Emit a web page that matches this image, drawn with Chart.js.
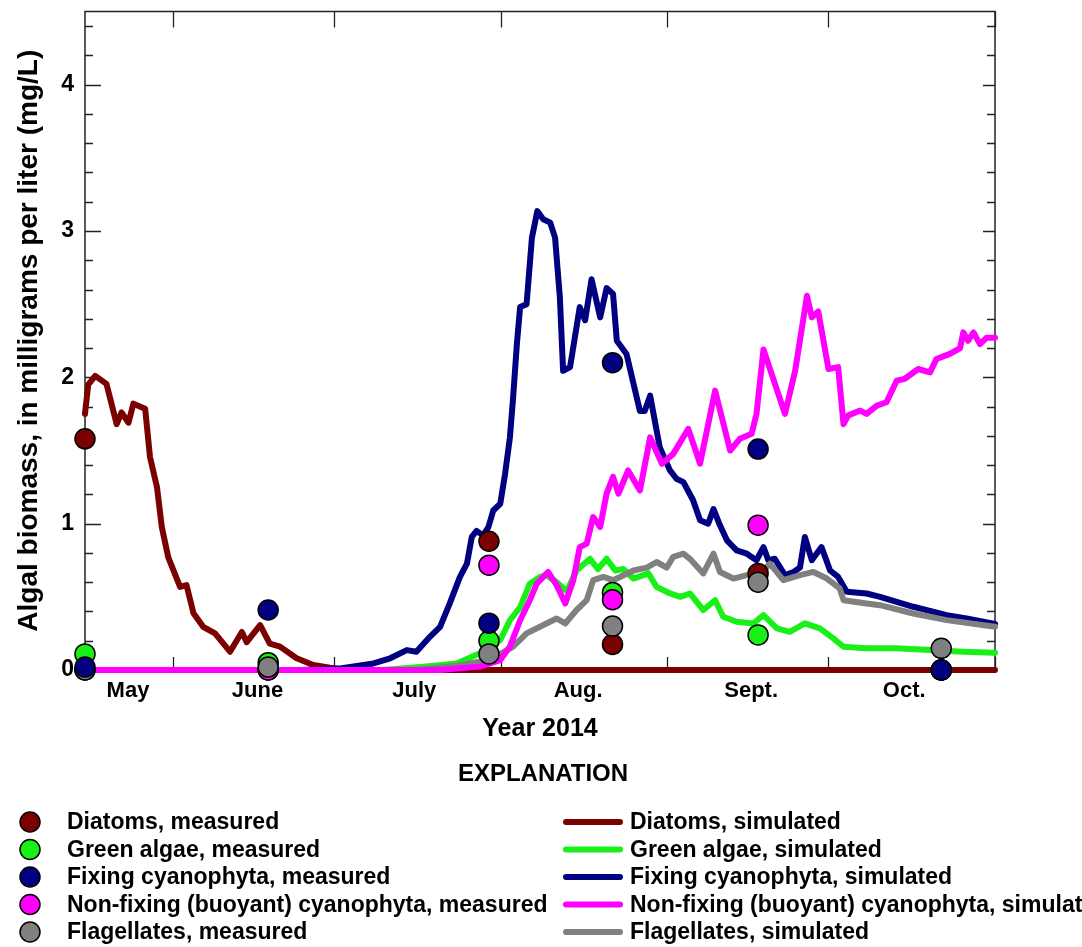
<!DOCTYPE html>
<html>
<head>
<meta charset="utf-8">
<title>Algal biomass, 2014</title>
<script src="https://cdn.jsdelivr.net/npm/chart.js@4.4.1/dist/chart.umd.min.js"></script>
<style>
  html, body { margin: 0; padding: 0; background: #fff; }
  #wrap { width: 1082px; height: 947px; }
</style>
</head>
<body>
<div id="wrap"><canvas id="chart" width="1082" height="947"></canvas></div>
<script>
// x values are days since 1 January 2014 (1 June = 151)
const xMin = 134.6;
const xMax = 304;
const monthNames = ['May', 'June', 'July', 'Aug.', 'Sept.', 'Oct.'];
const monthLabelDays = [142.6, 166.7, 195.9, 226.4, 258.6, 287.1];
const monthStartDays = [151, 181, 212, 243, 273, 304];
const yMajorTicks = [0, 1, 2, 3, 4];

const seriesNames = ['Diatoms', 'Green algae', 'Fixing cyanophyta', 'Non-fixing (buoyant) cyanophyta', 'Flagellates'];
const seriesColors = ['#7b0000', '#18f018', '#000080', '#ff00ff', '#808080'];

// sampling dates and measured biomass, mg/L
const sampleDays = [134.6, 168.7, 209.8, 232.8, 259.9, 294.0];
const diatomsMeasured = [1.58, 0, 0.88, 0.175, 0.66, 0];
const greenMeasured = [0.11, 0.05, 0.20, 0.53, 0.24, 0];
const fixingMeasured = [0.02, 0.41, 0.32, 2.10, 1.51, 0];
const nonfixMeasured = [0, 0, 0.716, 0.48, 0.99, 0];
const flagMeasured = [0, 0.02, 0.11, 0.30, 0.60, 0.148];

// simulated biomass
const diatomDays = [134.6, 135.2, 136.5, 138.6, 140.5, 141.4, 142.7, 143.6, 145.8, 146.7, 148.0, 148.9, 150.1, 152.3, 153.5, 154.8, 156.6, 158.8, 161.6, 163.8, 164.7, 167.2, 169.0, 170.9, 174.0, 177.1, 180.2, 184, 304];
const diatomSim = [1.75, 1.95, 2.01, 1.955, 1.68, 1.76, 1.69, 1.82, 1.785, 1.455, 1.25, 0.977, 0.77, 0.568, 0.58, 0.387, 0.295, 0.25, 0.125, 0.26, 0.19, 0.307, 0.18, 0.16, 0.08, 0.034, 0.015, 0, 0];

const greenDays = [134.6, 190, 197.6, 203.8, 208.1, 211.9, 213.7, 215.6, 217.4, 219.3, 220.5, 222.4, 224.3, 226.1, 228.6, 230.1, 231.7, 233.3, 234.8, 236.7, 239.5, 241.0, 243.5, 245.4, 247.2, 249.7, 251.9, 253.4, 255.9, 259.0, 260.9, 263.4, 265.8, 268.6, 271.4, 273.9, 275.8, 280.1, 285.7, 291.9, 298.1, 304];
const greenSim = [0, 0, 0.023, 0.045, 0.114, 0.205, 0.34, 0.43, 0.59, 0.636, 0.648, 0.60, 0.54, 0.68, 0.76, 0.69, 0.76, 0.68, 0.69, 0.625, 0.66, 0.568, 0.523, 0.50, 0.523, 0.41, 0.477, 0.364, 0.33, 0.318, 0.375, 0.284, 0.261, 0.318, 0.284, 0.216, 0.159, 0.148, 0.148, 0.136, 0.125, 0.118];

const fixingDays = [134.6, 175, 182.1, 188.3, 191.4, 194.5, 196.3, 198.8, 200.7, 202.5, 204.4, 205.7, 206.6, 207.5, 208.7, 209.7, 210.6, 211.9, 212.8, 213.7, 214.3, 215.0, 215.6, 216.8, 217.8, 218.8, 219.9, 221.2, 222.1, 223.0, 223.6, 224.9, 226.7, 227.7, 228.9, 230.5, 231.7, 232.9, 233.6, 235.4, 237.9, 238.8, 239.8, 241.6, 243.5, 244.7, 246.0, 247.8, 249.1, 250.6, 251.6, 252.8, 254.1, 255.9, 257.8, 259.6, 260.9, 261.8, 263.0, 264.9, 266.5, 267.7, 268.6, 269.9, 271.7, 273.3, 274.8, 276.4, 280.1, 282.6, 288.8, 295.0, 298.7, 304];
const fixingSim = [0, 0, 0.01, 0.045, 0.08, 0.136, 0.125, 0.227, 0.295, 0.455, 0.636, 0.727, 0.909, 0.95, 0.92, 0.977, 1.09, 1.136, 1.34, 1.59, 1.864, 2.23, 2.48, 2.50, 2.955, 3.136, 3.08, 3.057, 2.955, 2.545, 2.045, 2.07, 2.48, 2.39, 2.67, 2.41, 2.61, 2.57, 2.25, 2.16, 1.77, 1.77, 1.875, 1.52, 1.364, 1.307, 1.284, 1.16, 1.023, 1.0, 1.10, 0.989, 0.886, 0.818, 0.795, 0.75, 0.84, 0.75, 0.76, 0.648, 0.67, 0.70, 0.909, 0.75, 0.84, 0.68, 0.636, 0.534, 0.523, 0.50, 0.432, 0.375, 0.352, 0.315];

const nonfixDays = [134.6, 200.7, 208.1, 211.9, 213.7, 215.6, 217.4, 218.7, 220.8, 222.4, 224.0, 225.5, 226.7, 228.0, 229.2, 230.5, 231.7, 232.9, 233.9, 235.7, 237.9, 239.8, 242.0, 244.1, 246.9, 249.1, 251.9, 254.7, 256.5, 258.7, 259.6, 260.9, 264.9, 266.8, 269.0, 269.9, 271.1, 273.0, 274.8, 275.8, 276.7, 278.9, 280.1, 282.0, 283.8, 285.7, 287.2, 289.7, 291.9, 293.1, 295.6, 297.5, 298.1, 299.0, 300.0, 301.2, 302.4, 304];
const nonfixSim = [0, 0, 0.023, 0.068, 0.16, 0.34, 0.477, 0.59, 0.67, 0.58, 0.455, 0.614, 0.84, 0.864, 1.045, 0.977, 1.205, 1.32, 1.205, 1.364, 1.227, 1.59, 1.41, 1.477, 1.648, 1.41, 1.909, 1.5, 1.58, 1.614, 1.75, 2.19, 1.75, 2.045, 2.557, 2.41, 2.45, 2.057, 2.07, 1.68, 1.74, 1.773, 1.75, 1.807, 1.83, 1.977, 1.99, 2.057, 2.034, 2.125, 2.16, 2.2, 2.307, 2.25, 2.307, 2.227, 2.27, 2.27];

const flagDays = [134.6, 196, 198.8, 204, 210.0, 214.3, 216.8, 220.5, 222.4, 224.0, 226.1, 228.0, 229.2, 231.1, 232.9, 234.2, 236.7, 239.2, 241.0, 242.9, 244.1, 246.0, 247.2, 249.7, 251.6, 252.8, 255.3, 257.8, 260.9, 262.1, 264.6, 267.7, 270.2, 272.7, 275.1, 275.8, 280.1, 282.6, 288.8, 295.0, 304];
const flagSim = [0, 0, 0.01, 0.03, 0.07, 0.16, 0.25, 0.318, 0.352, 0.318, 0.41, 0.477, 0.614, 0.636, 0.614, 0.636, 0.68, 0.70, 0.738, 0.70, 0.773, 0.795, 0.76, 0.66, 0.795, 0.67, 0.625, 0.648, 0.68, 0.727, 0.614, 0.648, 0.67, 0.625, 0.557, 0.477, 0.455, 0.443, 0.386, 0.341, 0.295];

const FONT = "'Liberation Sans', Arial, Helvetica, sans-serif";
const toPoints = (xs, ys) => xs.map((x, i) => ({ x, y: ys[i] }));

function simulated(idx, xs, ys, order) {
  return {
    label: seriesNames[idx] + ', simulated',
    data: toPoints(xs, ys),
    showLine: true,
    borderColor: seriesColors[idx],
    backgroundColor: seriesColors[idx],
    borderWidth: 6,
    borderJoinStyle: 'round',
    borderCapStyle: 'round',
    pointRadius: 0,
    tension: 0,
    clip: false,
    order
  };
}
function measured(idx, ys, order) {
  return {
    label: seriesNames[idx] + ', measured',
    data: toPoints(sampleDays, ys),
    showLine: false,
    backgroundColor: seriesColors[idx],
    borderColor: '#000',
    pointBorderColor: '#000',
    pointBackgroundColor: seriesColors[idx],
    pointRadius: 10,
    pointBorderWidth: 1.5,
    clip: false,
    order
  };
}

// inward tick marks and the box around the plot
const axisFrame = {
  id: 'axisFrame',
  beforeDatasetsDraw(chart) {
    const { ctx, chartArea: a, scales: { x, y } } = chart;
    ctx.save();
    ctx.strokeStyle = '#222';
    ctx.lineWidth = 1.5;
    ctx.strokeRect(a.left, a.top, a.right - a.left, a.bottom - a.top);
    ctx.beginPath();
    monthStartDays.forEach(d => {
      const px = Math.round(x.getPixelForValue(d)) + 0.5;
      ctx.moveTo(px, a.bottom); ctx.lineTo(px, a.bottom - 13);
      ctx.moveTo(px, a.top); ctx.lineTo(px, a.top + 16);
    });
    for (let i = 0; i <= 22; i++) {
      const py = Math.round(y.getPixelForValue(i * 0.2)) + 0.5;
      const major = i % 5 === 0;
      ctx.moveTo(a.left, py); ctx.lineTo(a.left + (major ? 16 : 8), py);
      ctx.moveTo(a.right, py); ctx.lineTo(a.right - (major ? 12 : 8), py);
    }
    ctx.lineWidth = 1.3;
    ctx.stroke();
    ctx.restore();
  }
};

// the explanation block under the chart
const explanation = {
  id: 'explanation',
  afterDraw(chart) {
    const ctx = chart.ctx;
    ctx.save();
    ctx.fillStyle = '#000';
    ctx.textBaseline = 'middle';
    ctx.textAlign = 'center';
    ctx.font = `bold 24px ${FONT}`;
    ctx.fillText('EXPLANATION', 543, 774);
    ctx.textAlign = 'left';
    ctx.font = `bold 23px ${FONT}`;
    seriesNames.forEach((name, i) => {
      const cy = 822 + i * 27.5;
      ctx.beginPath();
      ctx.arc(30, cy, 10, 0, Math.PI * 2);
      ctx.fillStyle = seriesColors[i];
      ctx.fill();
      ctx.lineWidth = 1.5;
      ctx.strokeStyle = '#000';
      ctx.stroke();
      ctx.fillStyle = '#000';
      ctx.fillText(name + ', measured', 67, cy + 1);

      ctx.beginPath();
      ctx.moveTo(566, cy); ctx.lineTo(620, cy);
      ctx.lineWidth = 6;
      ctx.lineCap = 'round';
      ctx.strokeStyle = seriesColors[i];
      ctx.stroke();
      ctx.fillStyle = '#000';
      ctx.fillText(name + ', simulated', 630, cy + 1);
    });
    ctx.restore();
  }
};

new Chart(document.getElementById('chart'), {
  type: 'scatter',
  data: {
    datasets: [
      measured(2, fixingMeasured, 1),
      measured(4, flagMeasured, 2),
      measured(3, nonfixMeasured, 3),
      measured(1, greenMeasured, 4),
      measured(0, diatomsMeasured, 5),
      simulated(3, nonfixDays, nonfixSim, 6),
      simulated(4, flagDays, flagSim, 7),
      simulated(2, fixingDays, fixingSim, 8),
      simulated(1, greenDays, greenSim, 9),
      simulated(0, diatomDays, diatomSim, 10)
    ]
  },
  options: {
    responsive: false,
    animation: false,
    events: [],
    layout: { padding: { top: 10, right: 87, bottom: 0, left: 0 } },
    plugins: { legend: { display: false }, tooltip: { enabled: false } },
    scales: {
      x: {
        type: 'linear',
        min: xMin,
        max: xMax,
        afterFit(s) { s.height = 277; s.paddingLeft = 0; s.paddingRight = 0; },
        afterBuildTicks(s) { s.ticks = monthLabelDays.map(v => ({ value: v })); },
        grid: { display: false, drawTicks: false },
        border: { display: false },
        ticks: {
          autoSkip: false,
          maxRotation: 0,
          padding: 8,
          color: '#000',
          font: { family: FONT, size: 22, weight: 'bold' },
          callback: (v, i) => monthNames[i]
        },
        title: {
          display: true,
          text: 'Year 2014',
          color: '#000',
          font: { family: FONT, size: 25, weight: 'bold' },
          padding: { top: 0, bottom: 203 }
        }
      },
      y: {
        min: 0,
        max: 4.5,
        afterFit(s) { s.width = 85; s.paddingTop = 0; s.paddingBottom = 0; },
        afterBuildTicks(s) { s.ticks = yMajorTicks.map(v => ({ value: v })); },
        grid: { display: false, drawTicks: false },
        border: { display: false },
        ticks: {
          padding: 11,
          color: '#000',
          font: { family: FONT, size: 23, weight: 'bold' }
        },
        title: {
          display: true,
          text: 'Algal biomass, in milligrams per liter (mg/L)',
          color: '#000',
          font: { family: FONT, size: 28, weight: 'bold' },
          padding: { top: 12, bottom: 0 }
        }
      }
    }
  },
  plugins: [axisFrame, explanation]
});
</script>
</body>
</html>
